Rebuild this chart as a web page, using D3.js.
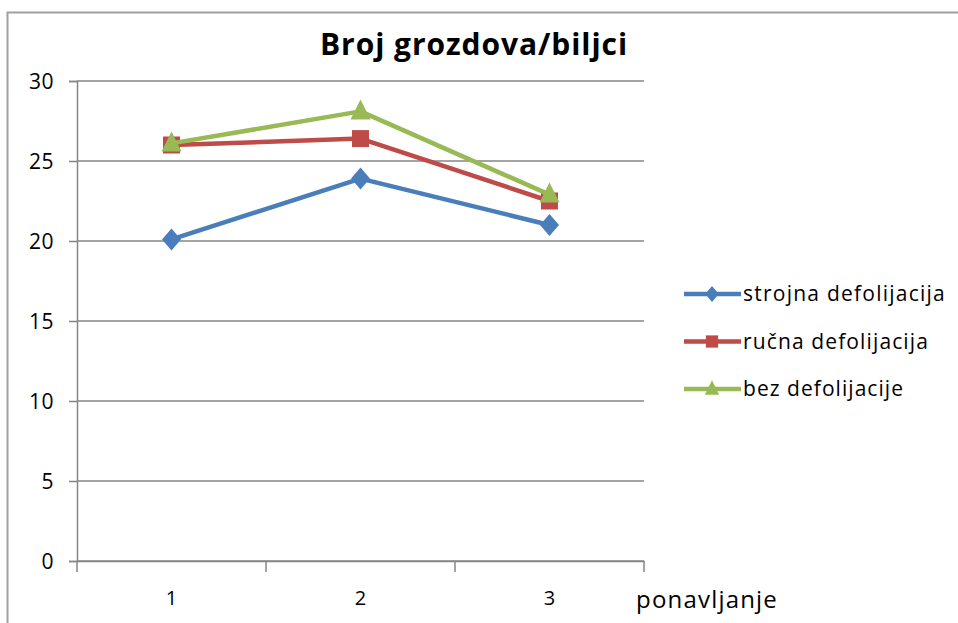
<!DOCTYPE html>
<html><head><meta charset="utf-8">
<script src="https://cdn.jsdelivr.net/npm/d3@7"></script>
<style>body{margin:0;background:#fff}svg{display:block}</style>
</head><body>
<script>
const categories = ["1","2","3"];
const yTicks = [0,5,10,15,20,25,30];
const seriesNames = ["strojna defolijacija","ručna defolijacija","bez defolijacije"];
const strojna = [20.1, 23.9, 21.0];
const rucna = [26.0, 26.4, 22.5];
const bez = [26.1, 28.1, 22.9];
const colors = ["#4a7ebb","#be4b48","#98b954"];
const series = [strojna, rucna, bez];

(function(){
const W=958,H=623;
const svg=d3.select("body").append("svg").attr("width",W).attr("height",H);
const font="'Open Sans', 'DejaVu Sans', sans-serif";
function fit(sel,target){
  const n=sel.text().length; const w=sel.node().getComputedTextLength();
  sel.attr("letter-spacing",(target-w)/n);
}
function diamond(s){return {draw(ctx){ctx.moveTo(0,-11*s);ctx.lineTo(9.5*s,0);ctx.lineTo(0,11*s);ctx.lineTo(-9.5*s,0);ctx.closePath();}};}
function square(s){return {draw(ctx){const h=8.5*s;ctx.moveTo(-h,-h);ctx.lineTo(h,-h);ctx.lineTo(h,h);ctx.lineTo(-h,h);ctx.closePath();}};}
function triangle(s){return {draw(ctx){ctx.moveTo(0,-12*s);ctx.lineTo(10*s,8*s);ctx.lineTo(-10*s,8*s);ctx.closePath();}};}
const shapes=[diamond,square,triangle];

svg.append("path").attr("d","M7.5,"+H+"V12.5H"+W).attr("fill","none").attr("stroke","#a0a0a0").attr("stroke-width",2);

const pL=77,pR=644,pT=81,pB=561;
const x=d3.scaleBand().domain(categories).range([pL,pR]);
const y=d3.scaleLinear().domain([0,30]).range([pB,pT]);

svg.append("g").selectAll("line").data(yTicks).join("line")
 .attr("x1",pL).attr("x2",pR).attr("y1",d=>y(d)).attr("y2",d=>y(d))
 .attr("stroke","#868686").attr("stroke-width",1.5);

const ya=svg.append("g").attr("transform",`translate(${pL},0)`)
 .call(d3.axisLeft(y).tickValues(yTicks).tickSize(8).tickPadding(15));
ya.select(".domain").attr("stroke","#868686").attr("stroke-width",1.5);
ya.selectAll(".tick line").attr("stroke","#868686").attr("stroke-width",1.5);
ya.selectAll("text").attr("font-family",font).attr("font-size",21).attr("fill","#000").attr("letter-spacing",0.5).attr("dy","0.35em");

const xa=svg.append("g").attr("transform",`translate(0,${pB})`)
 .call(d3.axisBottom(x).tickSize(0).tickPadding(30));
xa.select(".domain").attr("stroke","#868686").attr("stroke-width",1.5);
xa.selectAll("text").attr("font-family",font).attr("font-size",20).attr("fill","#000");
const bounds=[pL].concat(categories.map(c=>x(c)+x.bandwidth()));
xa.append("g").selectAll("line").data(bounds).join("line")
 .attr("x1",d=>d).attr("x2",d=>d).attr("y1",0).attr("y2",11)
 .attr("stroke","#868686").attr("stroke-width",1.5);

const pn=svg.append("text").attr("x",636).attr("y",608)
 .attr("font-family",font).attr("font-size",24).text("ponavljanje");
fit(pn,142);

const tt=svg.append("text").attr("x",320).attr("y",55)
 .attr("font-family",font).attr("font-size",30).attr("font-weight","bold").text("Broj grozdova/biljci");
fit(tt,308);

const line=d3.line().x((d,i)=>x(categories[i])+x.bandwidth()/2).y(d=>y(d));
series.forEach((s,k)=>{
  svg.append("path").datum(s).attr("d",line).attr("fill","none")
   .attr("stroke",colors[k]).attr("stroke-width",4.5).attr("stroke-linejoin","round");
  svg.append("g").selectAll("path").data(s).join("path")
   .attr("transform",(d,i)=>`translate(${x(categories[i])+x.bandwidth()/2},${y(d)})`)
   .attr("d",d3.symbol().type(shapes[k](1))).attr("fill",colors[k]);
});

const lg=svg.append("g");
const legW=[203,186,161];
seriesNames.forEach((n,k)=>{
  const yy=294+k*47.5;
  lg.append("line").attr("x1",684).attr("x2",741).attr("y1",yy).attr("y2",yy)
    .attr("stroke",colors[k]).attr("stroke-width",4.5);
  lg.append("path").attr("transform",`translate(712,${yy})`)
    .attr("d",d3.symbol().type(shapes[k](0.72))).attr("fill",colors[k]);
  const t=lg.append("text").attr("x",743).attr("y",yy+7).attr("font-family",font)
    .attr("font-size",21).text(n);
  fit(t,legW[k]);
});
})();
</script>
</body></html>
